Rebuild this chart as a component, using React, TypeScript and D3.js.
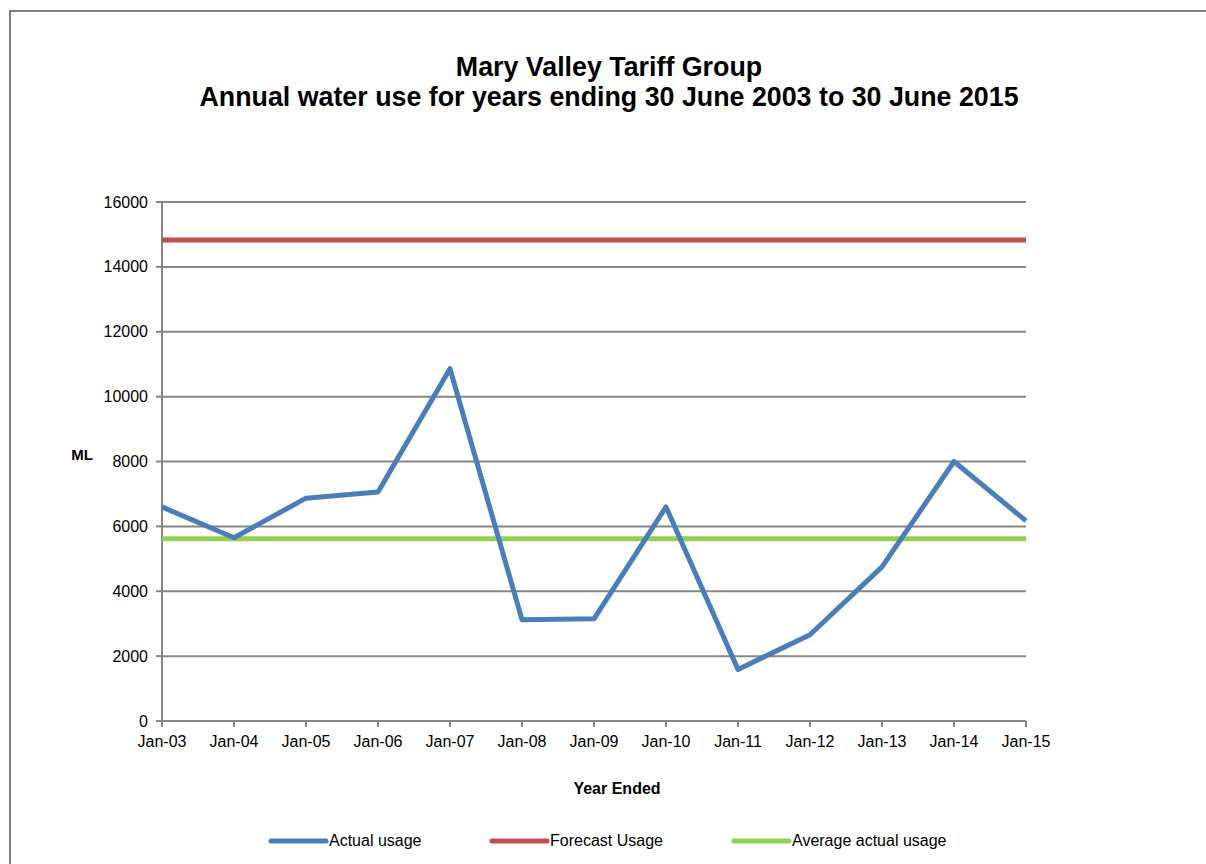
import * as d3 from "d3";
import React from "react";

const years = ["Jan-03", "Jan-04", "Jan-05", "Jan-06", "Jan-07", "Jan-08", "Jan-09", "Jan-10", "Jan-11", "Jan-12", "Jan-13", "Jan-14", "Jan-15"];
const actualUsage = [6600, 5650, 6870, 7060, 10860, 3120, 3150, 6600, 1590, 2660, 4750, 8000, 6170];
const forecastUsage = [14830, 14830, 14830, 14830, 14830, 14830, 14830, 14830, 14830, 14830, 14830, 14830, 14830];
const averageUsage = [5615, 5615, 5615, 5615, 5615, 5615, 5615, 5615, 5615, 5615, 5615, 5615, 5615];
const yTicks = [0, 2000, 4000, 6000, 8000, 10000, 12000, 14000, 16000];

const seriesList = [
  { name: "Actual usage", values: actualUsage, color: "#4a7ebb" },
  { name: "Forecast Usage", values: forecastUsage, color: "#c0504d" },
  { name: "Average actual usage", values: averageUsage, color: "#92d050" },
];

const W = 1206;
const H = 864;
const font = "'Liberation Sans', Arial, sans-serif";
const gray = "#868686";

export default function App() {
  const x = d3.scalePoint<string>().domain(years).range([162, 1026]);
  const y = d3.scaleLinear().domain([0, 16000]).range([721, 202]);

  const line = d3.line<number>()
    .x((_, i) => x(years[i]) as number)
    .y((d) => y(d));

  // draw order: average, forecast, actual on top
  const drawOrder = [seriesList[2], seriesList[1], seriesList[0]];
  const legendX = [271, 492, 734];

  return (
    <svg width={W} height={H} style={{ position: "absolute", left: 0, top: 0 }} fontFamily={font}>
      <rect x={0} y={0} width={W} height={H} fill="#fff" />
      <rect x={10} y={11} width={W + 20} height={H + 20} fill="none" stroke="#7f7f7f" strokeWidth={2} />

      <text x={609} y={76} textAnchor="middle" fontSize={26.8} fontWeight="bold">Mary Valley Tariff Group</text>
      <text x={609} y={106} textAnchor="middle" fontSize={26.8} fontWeight="bold">Annual water use for years ending 30 June 2003 to 30 June 2015</text>

      {/* gridlines + y ticks */}
      {yTicks.map((t) => (
        <g key={t}>
          {t > 0 && <line x1={162} x2={1026} y1={y(t)} y2={y(t)} stroke={gray} strokeWidth={2} />}
          <line x1={156} x2={162} y1={y(t)} y2={y(t)} stroke={gray} strokeWidth={2} />
          <text x={148} y={y(t)} dy="0.35em" textAnchor="end" fontSize={16}>{t}</text>
        </g>
      ))}

      {/* axes */}
      <line x1={162} x2={162} y1={y(16000)} y2={y(0)} stroke={gray} strokeWidth={2} />
      <line x1={156} x2={1026} y1={y(0)} y2={y(0)} stroke={gray} strokeWidth={2} />
      {years.map((yr) => (
        <g key={yr}>
          <line x1={x(yr)} x2={x(yr)} y1={y(0)} y2={y(0) + 6} stroke={gray} strokeWidth={2} />
          <text x={x(yr)} y={747} textAnchor="middle" fontSize={16}>{yr}</text>
        </g>
      ))}

      <text x={82} y={460} textAnchor="middle" fontSize={15} fontWeight="bold">ML</text>
      <text x={617} y={794} textAnchor="middle" fontSize={16} fontWeight="bold">Year Ended</text>

      {drawOrder.map((s) => (
        <path key={s.name} d={line(s.values) ?? ""} fill="none" stroke={s.color} strokeWidth={5}
          strokeLinejoin="round" strokeLinecap="butt" />
      ))}

      {seriesList.map((s, i) => (
        <g key={s.name}>
          <line x1={legendX[i]} x2={legendX[i] + 55} y1={841} y2={841} stroke={s.color} strokeWidth={5} strokeLinecap="round" />
          <text x={legendX[i] + 58} y={846} fontSize={16}>{s.name}</text>
        </g>
      ))}
    </svg>
  );
}
